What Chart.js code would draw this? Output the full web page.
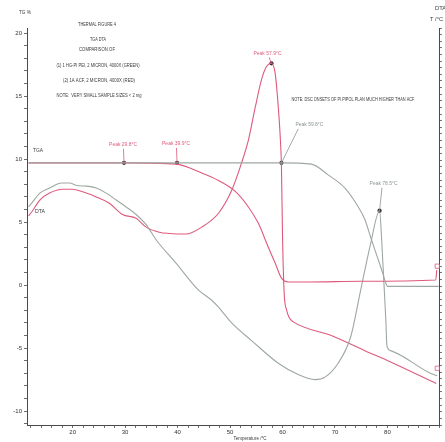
<!DOCTYPE html>
<html>
<head>
<meta charset="utf-8">
<script src="https://cdn.jsdelivr.net/npm/chart.js@4/dist/chart.umd.min.js"></script>
<style>
  html, body { margin: 0; padding: 0; background: #fff; }
  canvas { display: block; }
</style>
</head>
<body>
<canvas id="chart" width="445" height="442"></canvas>
<script>
// ── Data ───────────────────────────────────────────────────
// TGA, sample 1 (green)
const tgaGreenT = [11.6, 20, 30, 40, 50, 60, 65.5, 68.7, 71.9, 74.0, 75.7, 76.8, 78.1, 79.1, 79.7, 80.0, 85, 89.8];
const tgaGreenM = [9.7, 9.7, 9.7, 9.7, 9.7, 9.7, 9.6, 8.75, 7.7, 6.5, 5.2, 3.8, 2.2, 0.95, 0.15, -0.1, -0.1, -0.1];

// TGA, sample 2 (red)
const tgaRedT = [11.6, 20, 30, 39.7, 44.6, 47.8, 51.1, 53.5, 55.4, 57.3, 58.6, 59.8, 61.1, 65, 75, 89.2, 89.4];
const tgaRedM = [9.7, 9.7, 9.7, 9.6, 8.9, 8.3, 7.4, 6.2, 4.9, 3.0, 1.75, 0.55, 0.25, 0.25, 0.3, 0.4, 1.2];

// DTA, sample 1 (green)
const dtaGreenT = [11.6, 12.2, 13.75, 15.6, 17.9, 19.4, 20.8, 22.7, 24.5, 26.4, 28.3, 30.2, 32.1, 34.0, 35.9, 39.7, 44.0, 46.5, 47.8, 50.3, 54.1, 59.2, 63.0, 66.2, 68.1, 70.6, 73.0, 74.9, 76.8, 78.5, 78.9, 79.3, 79.7, 79.9, 80.6, 88.2, 89.5];
const dtaGreenV = [6.2, 6.5, 7.3, 7.7, 8.1, 8.1, 7.9, 7.85, 7.7, 7.3, 6.75, 6.2, 5.6, 4.8, 3.6, 1.75, -0.4, -1.2, -1.75, -3.0, -4.4, -6.2, -7.1, -7.5, -7.3, -6.2, -4.1, -0.4, 3.3, 5.9, 3.6, 0.4, -2.8, -4.8, -5.2, -7.0, -7.2];

// DTA, sample 2 (red)
const dtaRedT = [11.6, 12.2, 13.75, 15.6, 18.1, 20, 21.9, 24.5, 27.0, 29.5, 32.1, 34.0, 36.5, 38.4, 41.6, 44.6, 47.8, 50.3, 52.2, 53.5, 54.8, 56.0, 56.9, 57.9, 58.6, 59.2, 59.6, 59.8, 60.0, 60.3, 60.8, 61.3, 62.0, 69.3, 75.7, 80.6, 89.3];
const dtaRedV = [5.5, 5.8, 6.75, 7.3, 7.6, 7.6, 7.4, 7.0, 6.5, 5.6, 5.3, 4.6, 4.2, 4.1, 4.05, 4.6, 5.7, 7.5, 9.7, 11.5, 14.1, 16.3, 17.3, 17.6, 16.8, 14.1, 11.5, 9.4, 4.0, -0.5, -2.0, -2.6, -2.9, -4.0, -5.2, -6.1, -7.8];

// Peak markers
const peakT = [29.8, 39.9, 57.9, 59.8, 78.5];
const peakV = [9.7, 9.7, 17.6, 9.7, 5.9];
const peakText = ["Peak 29.8°C", "Peak 39.9°C", "Peak 57.9°C", "Peak 59.8°C", "Peak 78.5°C"];
const peakSeries = ["red", "red", "red", "green", "green"];

// End-of-run boxes
const endT = [89.5, 89.5];
const endV = [1.5, -6.6];

// Axis ticks
const xLabels = [20, 30, 40, 50, 60, 70, 80];
const yLabels = [-10, -5, 0, 5, 10, 15, 20];

// ── Styling ───────────────────────────────────────────────
const RED = "#de5a7c";
const GREEN = "#9ea8a2";
const AXIS = "#4a4a4a";
const FONT = '"Liberation Sans", Arial, sans-serif';

// label offsets (px) from each peak marker
const peakLabelOffset = [[-1, -18], [-1, -19], [-4, -10], [28, -38], [4, -27]];

const notes = [
  ["THERMAL FIGURE 4", 97, 25, 38],
  ["TGA DTA", 98, 40, 16],
  ["COMPARISON OF", 97, 50, 36],
  ["(1) 1 HG-PI PEI, 2 MICRON, 4000X (GREEN)", 98, 66, 83],
  ["(2) 1A ACF, 2 MICRON, 4000X (RED)", 99, 81, 72],
  ["NOTE:  VERY SMALL SAMPLE SIZES < 2 mg", 99, 96, 85],
  ["NOTE: DSC ONSETS OF PI PIPOL PLAN MUCH HIGHER THAN ACF", 353, 100, 123],
  ["TGA", 38, 151, 10],
  ["DTA", 40, 212, 10],
  ["TG %", 25, 13, 12],
  ["Temperature /°C", 250, 439, 33]
];

function pts(xs, ys) {
  return xs.map((x, i) => ({ x, y: ys[i] }));
}

function drawFit(ctx, text, x, y, size, color, w, align) {
  ctx.save();
  ctx.font = size + "px " + FONT;
  ctx.fillStyle = color;
  ctx.textBaseline = "middle";
  ctx.textAlign = align || "center";
  const tw = ctx.measureText(text).width;
  const k = w ? w / tw : 1;
  ctx.translate(x, y);
  ctx.scale(k, 1);
  ctx.fillText(text, 0, 0);
  ctx.restore();
}

const annotations = {
  id: "annotations",
  afterDatasetsDraw(chart) {
    const { ctx, scales } = chart;
    const xs = scales.x, ys = scales.y;

    // peak labels + leader lines
    peakT.forEach((t, i) => {
      const px = xs.getPixelForValue(t);
      const py = ys.getPixelForValue(peakV[i]);
      const [dx, dy] = peakLabelOffset[i];
      const col = peakSeries[i] === "red" ? RED : "#8c9690";
      ctx.save();
      ctx.strokeStyle = col;
      ctx.lineWidth = 0.8;
      ctx.beginPath();
      ctx.moveTo(px + dx * 0.6, py + dy + 4);
      ctx.lineTo(px, py);
      ctx.stroke();
      ctx.restore();
      drawFit(ctx, peakText[i], px + dx, py + dy, 5, col, 28);
    });

    notes.forEach(([text, x, y, w]) => drawFit(ctx, text, x, y, 5, "#3a3a3a", w));

    // right-hand axis captions, cut by the frame edge
    drawFit(ctx, "DTA uV", 435, 9, 5, "#3a3a3a", 20, "left");
    drawFit(ctx, "T /°C", 430, 20, 5, "#3a3a3a", 13, "left");
  }
};

new Chart(document.getElementById("chart"), {
  type: "scatter",
  data: {
    datasets: [
      { label: "TGA green", data: pts(tgaGreenT, tgaGreenM), borderColor: GREEN },
      { label: "TGA red", data: pts(tgaRedT, tgaRedM), borderColor: RED },
      { label: "DTA green", data: pts(dtaGreenT, dtaGreenV), borderColor: GREEN },
      { label: "DTA red", data: pts(dtaRedT, dtaRedV), borderColor: RED },
      {
        label: "Peaks", data: pts(peakT, peakV), showLine: false,
        pointRadius: 1.6, pointBackgroundColor: "#333", pointBorderColor: "#333"
      },
      {
        label: "End", data: pts(endT, endV), showLine: false, pointStyle: "rect",
        pointRadius: 3, pointBackgroundColor: "rgba(0,0,0,0)", pointBorderColor: RED, pointBorderWidth: 0.8
      }
    ].map(d => Object.assign({
      showLine: true, pointRadius: 0, borderWidth: 1.1,
      cubicInterpolationMode: "monotone", fill: false
    }, d))
  },
  options: {
    responsive: false,
    devicePixelRatio: 1,
    animation: false,
    layout: { padding: { top: 28, left: 0, right: 0, bottom: 0 } },
    plugins: { legend: { display: false }, tooltip: { enabled: false } },
    scales: {
      x: {
        type: "linear", min: 11.3, max: 90.0,
        afterBuildTicks: s => {
          const t = [];
          for (let v = 12; v <= 90; v += 2) t.push({ value: v });
          s.ticks = t;
        },
        afterFit: s => { s.height = 17; },
        ticks: {
          autoSkip: false, maxRotation: 0, padding: 1,
          font: { family: FONT, size: 6 }, color: "#333",
          callback: v => (xLabels.includes(v) ? String(v) : "")
        },
        grid: { drawOnChartArea: false, tickLength: 3, color: AXIS, lineWidth: 0.8 },
        border: { color: AXIS, width: 1 }
      },
      y: {
        type: "linear", position: "left", min: -11.1, max: 20.4,
        afterBuildTicks: s => {
          const t = [];
          for (let v = -11; v <= 20; v += 1) t.push({ value: v });
          s.ticks = t;
        },
        afterFit: s => { s.width = 27; },
        ticks: {
          autoSkip: false, padding: 2,
          font: { family: FONT, size: 6 }, color: "#333",
          callback: v => (yLabels.includes(v) ? String(v) : "")
        },
        grid: { drawOnChartArea: false, tickLength: 3, color: AXIS, lineWidth: 0.8 },
        border: { color: AXIS, width: 1 }
      },
      y2: {
        type: "linear", position: "right", min: 0, max: 60,
        afterBuildTicks: s => {
          const t = [];
          for (let v = 0; v <= 60; v += 1) t.push({ value: v });
          s.ticks = t;
        },
        afterFit: s => { s.width = 2; },
        ticks: { display: false },
        grid: { drawOnChartArea: false, tickLength: 2, color: AXIS, lineWidth: 0.8 },
        border: { color: AXIS, width: 1 }
      }
    }
  },
  plugins: [annotations]
});
</script>
</body>
</html>
